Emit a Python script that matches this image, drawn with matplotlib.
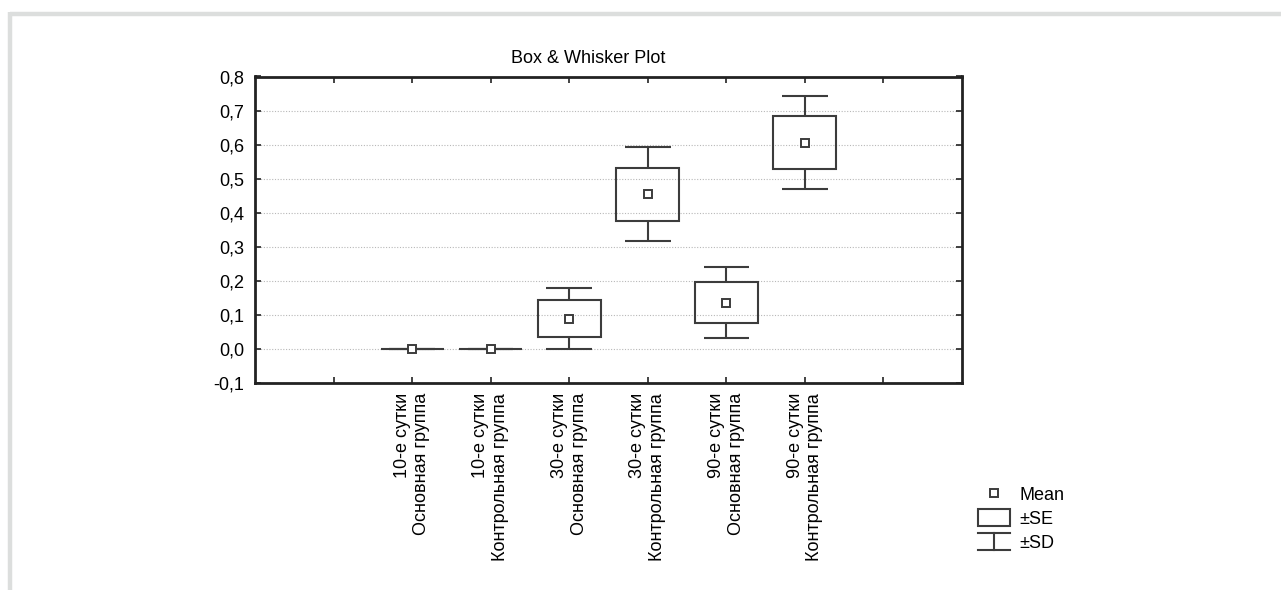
import matplotlib
matplotlib.use("Agg")
import matplotlib.pyplot as plt
from matplotlib.lines import Line2D
from matplotlib.patches import Rectangle
from matplotlib.legend_handler import HandlerBase

plt.rcParams['font.family'] = ['Liberation Sans', 'DejaVu Sans']

# ---- data ----
categories = [
    "10-е сутки\nОсновная группа",
    "10-е сутки\nКонтрольная группа",
    "30-е сутки\nОсновная группа",
    "30-е сутки\nКонтрольная группа",
    "90-е сутки\nОсновная группа",
    "90-е сутки\nКонтрольная группа",
]
means = [0.0, 0.0, 0.090, 0.455, 0.137, 0.606]
se = [0.0, 0.0, 0.054, 0.078, 0.060, 0.078]
sd = [0.0, 0.0, 0.090, 0.139, 0.103, 0.137]
yticks = [-0.1, 0.0, 0.1, 0.2, 0.3, 0.4, 0.5, 0.6, 0.7, 0.8]
ytick_labels = ["-0,1", "0,0", "0,1", "0,2", "0,3", "0,4", "0,5", "0,6", "0,7", "0,8"]
legend_labels = ["Mean", "±SE", "±SD"]
title = "Box & Whisker Plot"

C = "#3c3c3c"
FS = 13

fig = plt.figure(figsize=(12.81, 5.90), dpi=100)
fig.patch.set_facecolor("white")

# outer gray frame (top and left edges)
fig.add_artist(Line2D([10/1281, 1.0], [1-14/590, 1-14/590], transform=fig.transFigure,
                      color="#dcdedd", lw=3.2, solid_capstyle="butt"))
fig.add_artist(Line2D([10/1281, 10/1281], [0.0, 1-12/590], transform=fig.transFigure,
                      color="#dcdedd", lw=3.2, solid_capstyle="butt"))

ax = fig.add_axes([255/1281, 1-383.3/590, (962-255)/1281, (383.3-76.5)/590])

n = len(categories)
pos = list(range(1, n + 1))

# boxes (±SE)
ax.bar(pos, [2*s for s in se], bottom=[m - s for m, s in zip(means, se)], width=0.8,
       fill=False, edgecolor=C, linewidth=1.5, zorder=3)
# whiskers (±SD)
ax.vlines(pos, [m + s for m, s in zip(means, se)], [m + d for m, d in zip(means, sd)],
          color=C, lw=1.5, zorder=3)
ax.vlines(pos, [m - d for m, d in zip(means, sd)], [m - s for m, s in zip(means, se)],
          color=C, lw=1.5, zorder=3)
ax.hlines([m + d for m, d in zip(means, sd)], [p - 0.29 for p in pos], [p + 0.29 for p in pos],
          color=C, lw=1.5, zorder=3)
ax.hlines([m - d for m, d in zip(means, sd)], [p - 0.29 for p in pos], [p + 0.29 for p in pos],
          color=C, lw=1.5, zorder=3)
# means
ax.plot(pos, means, "s", mfc="white", mec=C, ms=6.2, mew=1.4, zorder=4)

ax.set_xlim(-1, n + 2)
ax.set_ylim(-0.1, 0.8)
ax.set_xticks(range(0, n + 2))
ax.set_xticklabels([""] + categories + [""], rotation=90, ha="center", va="top",
                   multialignment="right", fontsize=FS)
ax.set_yticks(yticks)
ax.set_yticklabels(ytick_labels, fontsize=FS)
ax.tick_params(axis="both", direction="in", length=4, width=1.2, color="#222222",
               top=True, right=True)
ax.tick_params(axis="x", pad=7)
ax.tick_params(axis="y", pad=8)
for sp in ax.spines.values():
    sp.set_linewidth(2.0)
    sp.set_color("#222222")
ax.yaxis.grid(True, linestyle=(0, (1, 1.5)), color="#b8b8b8", lw=0.8, zorder=0)
ax.set_axisbelow(True)

ax.set_title(title, fontsize=FS, x=(588-255)/707, pad=10)


class SDHandle:
    pass


class HandlerSD(HandlerBase):
    def create_artists(self, legend, orig_handle, xdescent, ydescent, width, height,
                       fontsize, trans):
        x0, y0 = -xdescent, -ydescent
        cx = x0 + width / 2
        arts = [Line2D([x0, x0 + width], [y0 + height, y0 + height]),
                Line2D([x0, x0 + width], [y0, y0]),
                Line2D([cx, cx], [y0, y0 + height])]
        for a in arts:
            a.set_color(C)
            a.set_linewidth(1.5)
            a.set_transform(trans)
        return arts


handles = [Line2D([], [], marker="s", ls="none", mfc="white", mec=C, ms=5.8, mew=1.4),
           Rectangle((0, 0), 1, 1, fill=False, ec=C, lw=1.5),
           SDHandle()]
fig.legend(handles, legend_labels, handler_map={SDHandle: HandlerSD()},
           loc="upper left", bbox_to_anchor=(978/1281, 1-485.5/590), frameon=False,
           fontsize=FS, borderpad=0, borderaxespad=0, handlelength=1.78, handleheight=1.05,
           handletextpad=0.5, labelspacing=0.3)

fig.savefig("out.png", dpi=100, facecolor="white")
